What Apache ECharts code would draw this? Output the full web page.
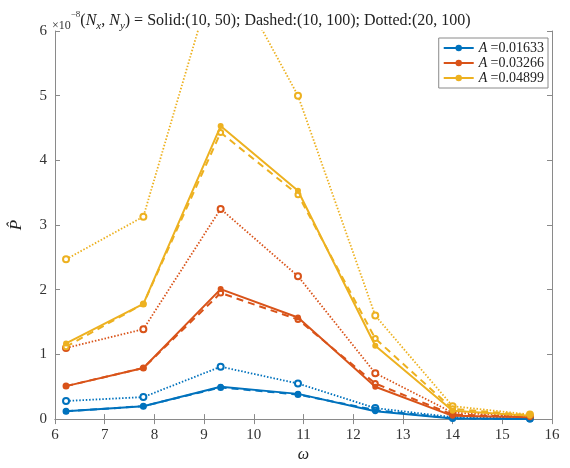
<!DOCTYPE html>
<html>
<head>
<meta charset="utf-8">
<script src="https://cdn.jsdelivr.net/npm/echarts@6/dist/echarts.min.js"></script>
<style>
  html, body { margin: 0; padding: 0; background: #fff; }
  #chart { width: 570px; height: 468px; }
</style>
</head>
<body>
<div id="chart"></div>
<script>
// omega values (x) and P-hat values (x 1e-8)
const omega = [6.222, 7.778, 9.333, 10.889, 12.444, 14.0, 15.556];
const xTicks = [6, 7, 8, 9, 10, 11, 12, 13, 14, 15, 16];
const yTicks = [0, 1, 2, 3, 4, 5, 6];
const ampNames = ['0.01633', '0.03266', '0.04899'];
const colours = ['#0072BD', '#D95319', '#EDB120'];

// blue  A = 0.01633
const blueSolid  = [0.12, 0.20, 0.50, 0.39, 0.12, 0.01, 0.00];
const blueDashed = [0.12, 0.20, 0.49, 0.38, 0.14, 0.01, 0.00];
const blueDotted = [0.28, 0.34, 0.81, 0.55, 0.17, 0.03, 0.01];
// orange  A = 0.03266
const orangeSolid  = [0.51, 0.79, 2.01, 1.57, 0.50, 0.05, 0.03];
const orangeDashed = [0.51, 0.79, 1.95, 1.54, 0.55, 0.07, 0.03];
const orangeDotted = [1.10, 1.39, 3.25, 2.21, 0.71, 0.10, 0.04];
// yellow  A = 0.04899
const yellowSolid  = [1.17, 1.78, 4.53, 3.53, 1.135, 0.13, 0.05];
const yellowDashed = [1.12, 1.78, 4.43, 3.47, 1.245, 0.16, 0.06];
const yellowDotted = [2.47, 3.13, 7.2, 5.0, 1.60, 0.20, 0.07];

const groups = [
    [blueSolid, blueDashed, blueDotted],
    [orangeSolid, orangeDashed, orangeDotted],
    [yellowSolid, yellowDashed, yellowDotted]
];

const serif = 'Liberation Serif';
const axisColour = '#8a8a8a';

function pairs(ys) {
    return ys.map(function (y, i) { return [omega[i], y]; });
}

let series = [];
groups.forEach(function (g, k) {
    const c = colours[k];
    //-- solid (in the legend)
    series.push({
        name: 'A =' + ampNames[k], type: 'line', data: pairs(g[0]),
        symbol: 'circle', symbolSize: 6,
        lineStyle: { color: c, width: 2 }, itemStyle: { color: c },
        z: 3
    });
    //-- dashed
    series.push({
        name: 'dashed' + k, type: 'line', data: pairs(g[1]),
        symbol: 'emptyCircle', symbolSize: 5,
        lineStyle: { color: c, width: 2, type: [7, 5] },
        itemStyle: { color: c, borderWidth: 1.5 },
        z: 2
    });
    //-- dotted
    series.push({
        name: 'dotted' + k, type: 'line', data: pairs(g[2]),
        symbol: 'emptyCircle', symbolSize: 6,
        lineStyle: { color: c, width: 1.8, type: [1.5, 1.8] },
        itemStyle: { color: c, borderWidth: 1.5 },
        z: 1
    });
});

const chart = echarts.init(document.getElementById('chart'), null, { renderer: 'canvas' });

const tickStyle = { show: true, inside: true, length: 5, lineStyle: { color: axisColour } };

const option = {
    animation: false,
    title: {
        text: '{m|×10}{sup|−8}{t|(}{i|N}{sub|x}{t|, }{i|N}{sub|y}{t|) = Solid:(10, 50); Dashed:(10, 100); Dotted:(20, 100)}',
        left: 47, top: 5,
        textStyle: {
            fontWeight: 'normal',
            rich: {
                m: { fontFamily: serif, fontSize: 12, fontWeight: 'normal', color: '#333', verticalAlign: 'bottom', lineHeight: 22 },
                sup: { fontFamily: serif, fontSize: 9, fontWeight: 'normal', color: '#333', verticalAlign: 'top', lineHeight: 22 },
                t: { fontFamily: serif, fontSize: 16, fontWeight: 'normal', color: '#222', lineHeight: 22 },
                i: { fontFamily: serif, fontSize: 16, fontWeight: 'normal', fontStyle: 'italic', color: '#222', lineHeight: 22 },
                sub: { fontFamily: serif, fontSize: 11, fontWeight: 'normal', fontStyle: 'italic', color: '#222', verticalAlign: 'bottom', lineHeight: 22 }
            }
        }
    },
    legend: {
        data: series.filter(function (s) { return s.name.indexOf('A =') === 0; }).map(function (s) { return s.name; }),
        orient: 'vertical',
        right: 22, top: 38,
        itemWidth: 30, itemHeight: 8, itemGap: 1,
        padding: [3, 4, 3, 4],
        backgroundColor: '#fff',
        borderColor: axisColour, borderWidth: 1,
        formatter: function (name) { return '{i|A} {t|' + name.slice(2) + '}'; },
        textStyle: {
            rich: {
                i: { fontFamily: serif, fontSize: 14, fontStyle: 'italic', color: '#222' },
                t: { fontFamily: serif, fontSize: 14, color: '#222' }
            }
        }
    },
    grid: { left: 46, right: 18, top: 31, bottom: 38, containLabel: false },
    xAxis: [{
        type: 'value', min: xTicks[0], max: xTicks[xTicks.length - 1], interval: 1,
        name: 'ω', nameLocation: 'middle', nameGap: 27,
        nameTextStyle: { fontFamily: serif, fontSize: 16, fontStyle: 'italic', color: '#222' },
        axisLine: { show: true, lineStyle: { color: axisColour } },
        axisTick: tickStyle,
        splitLine: { show: false },
        axisLabel: { fontFamily: serif, fontSize: 15, color: '#333', margin: 8 }
    }, {
        type: 'value', position: 'top', min: xTicks[0], max: xTicks[xTicks.length - 1], interval: 1,
        axisLine: { show: true, lineStyle: { color: axisColour } },
        axisTick: tickStyle, axisLabel: { show: false }, splitLine: { show: false }
    }],
    yAxis: [{
        type: 'value', min: yTicks[0], max: yTicks[yTicks.length - 1], interval: 1,
        name: 'P\u0302', nameLocation: 'middle', nameGap: 30, nameRotate: 90,
        nameTextStyle: { fontFamily: serif, fontSize: 17, fontStyle: 'italic', color: '#222' },
        axisLine: { show: true, lineStyle: { color: axisColour } },
        axisTick: tickStyle,
        splitLine: { show: false },
        axisLabel: { fontFamily: serif, fontSize: 15, color: '#333', margin: 8 }
    }, {
        type: 'value', position: 'right', min: yTicks[0], max: yTicks[yTicks.length - 1], interval: 1,
        axisLine: { show: true, lineStyle: { color: axisColour } },
        axisTick: tickStyle, axisLabel: { show: false }, splitLine: { show: false }
    }],
    series: series
};

chart.setOption(option);
</script>
</body>
</html>
